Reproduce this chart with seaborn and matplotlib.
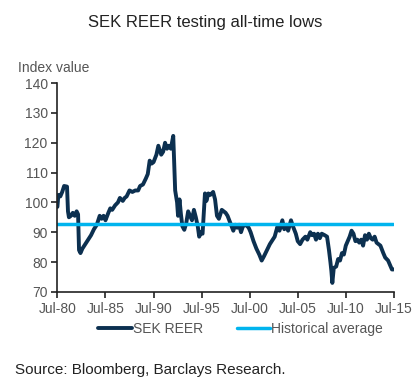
import matplotlib
matplotlib.use('Agg')
import matplotlib.pyplot as plt
import pandas as pd
import seaborn as sns

years = [1980.5, 1980.6, 1980.8, 1981.0, 1981.2, 1981.5, 1981.6, 1981.7, 1981.9, 1982.1,
         1982.3, 1982.5, 1982.65, 1982.75, 1982.9, 1983.1, 1983.4, 1983.7, 1984.0, 1984.3,
         1984.6, 1984.9, 1985.1, 1985.3, 1985.5, 1985.8, 1986.0, 1986.2, 1986.5, 1986.8,
         1987.0, 1987.3, 1987.5, 1987.7, 1988.0, 1988.3, 1988.6, 1988.9, 1989.1, 1989.4,
         1989.7, 1989.9, 1990.1, 1990.3, 1990.5, 1990.8, 1991.0, 1991.3, 1991.5, 1991.7,
         1991.9, 1992.1, 1992.3, 1992.55, 1992.75, 1992.95, 1993.05, 1993.2, 1993.35, 1993.5,
         1993.7, 1993.9, 1994.1, 1994.3, 1994.5, 1994.7, 1994.9, 1995.1, 1995.25, 1995.45,
         1995.6, 1995.85, 1996.0, 1996.2, 1996.4, 1996.7, 1996.9, 1997.1, 1997.3, 1997.6,
         1997.8, 1998.0, 1998.2, 1998.5, 1998.8, 1999.0, 1999.2, 1999.4, 1999.6, 1999.8,
         2000.1, 2000.4, 2000.6, 2000.9, 2001.2, 2001.5, 2001.75, 2002.0, 2002.3, 2002.6,
         2002.9, 2003.1, 2003.4, 2003.6, 2003.9, 2004.1, 2004.3, 2004.5, 2004.8, 2005.0,
         2005.3, 2005.5, 2005.75, 2006.0, 2006.3, 2006.5, 2006.8, 2007.0, 2007.2, 2007.4,
         2007.6, 2007.8, 2008.0, 2008.3, 2008.55, 2008.75, 2008.9, 2009.0, 2009.1, 2009.25,
         2009.5, 2009.7, 2009.9, 2010.1, 2010.3, 2010.5, 2010.7, 2010.9, 2011.1, 2011.3,
         2011.5, 2011.7, 2011.9, 2012.1, 2012.3, 2012.5, 2012.7, 2012.9, 2013.1, 2013.3,
         2013.5, 2013.7, 2013.9, 2014.1, 2014.4, 2014.6, 2014.9, 2015.1, 2015.3, 2015.45]
reer = [98.5, 102.5, 102, 103.5, 105.5, 105.3, 97, 95, 95.5, 96.5,
        95.5, 97, 96, 84, 83, 84.5, 86, 87.5, 89, 91,
        92.5, 95.5, 94.5, 95.5, 94, 96.5, 98, 97.5, 99, 100,
        101.5, 100.5, 101.5, 102, 104, 103.5, 104, 104, 105.5, 106,
        108, 109.5, 114, 113, 113.5, 116, 119, 116, 117, 120,
        118, 119, 118, 122.3, 104, 100, 95.5, 101, 96, 92,
        90.8, 93, 97, 95.5, 94, 97.5, 95, 92, 88.5, 90,
        89.5, 103, 100.5, 103, 102.5, 103.5, 101, 95.5, 94.5, 97.5,
        97, 96.5, 95.5, 93, 90.5, 92.5, 91.5, 92.5, 90, 92,
        92.5, 91.5, 90, 87, 84.5, 82.5, 80.5, 82, 84, 86,
        87.5, 88.5, 92, 90.5, 94, 91, 92.5, 90.5, 94, 92,
        89.5, 87, 86, 87.5, 88.5, 87.5, 90, 89, 89.5, 87.5,
        89.5, 88, 89.5, 89, 88.5, 84, 80, 77, 73, 78,
        78.5, 81, 80.5, 83, 82.5, 85.5, 87, 88.5, 90.5, 89.5,
        87, 87.5, 86.5, 87.5, 85.5, 89, 87.5, 89.5, 88, 87.5,
        88.5, 86.5, 86, 85.5, 83, 81.5, 80.5, 79, 77.5, 77.5]
hist_avg = 92.8

tick_years = [1980.5, 1985.5, 1990.5, 1995.5, 2000.5, 2005.5, 2010.5, 2015.5]
tick_labels = ['Jul-80', 'Jul-85', 'Jul-90', 'Jul-95', 'Jul-00', 'Jul-05', 'Jul-10', 'Jul-15']

df = pd.DataFrame({'year': years, 'SEK REER': reer})
df['Historical average'] = hist_avg

navy = '#0c3050'
sky = '#00b4ee'

sns.set_style('white')
plt.rcParams['font.family'] = ['Liberation Sans Narrow', 'Liberation Sans', 'DejaVu Sans']

fig = plt.figure(figsize=(4.19, 3.83), dpi=100, facecolor='white')
ax = fig.add_axes([0.137, 0.238, 0.803, 0.545])

sns.lineplot(data=df, x='year', y='SEK REER', color=navy, linewidth=2.8, ax=ax, label='SEK REER')
sns.lineplot(data=df, x='year', y='Historical average', color=sky, linewidth=2.5, ax=ax,
             label='Historical average')

ax.set_xlim(1980.5, 2015.5)
ax.set_ylim(70, 140)
ax.set_yticks(range(70, 141, 10))
ax.set_xticks(tick_years)
ax.set_xticklabels(tick_labels)
ax.set_xlabel('')
ax.set_ylabel('')
for side in ['top', 'right']:
    ax.spines[side].set_visible(False)
for side in ['left', 'bottom']:
    ax.spines[side].set_color('#222222')
    ax.spines[side].set_linewidth(1.2)
ax.tick_params(axis='both', length=4, width=1.2, color='#222222', labelcolor='#555555',
               labelsize=10, pad=3, direction='out')
ax.tick_params(left=True, bottom=True)

ax.legend(loc='upper center', bbox_to_anchor=(0.545, -0.085), ncol=2, frameon=False,
          fontsize=10, labelcolor='#555555', handlelength=2.4, handletextpad=0.1,
          columnspacing=2.4)

fig.text(0.49, 0.942, 'SEK REER testing all-time lows', ha='center', va='center',
         fontsize=12, color='#222222', family='Liberation Sans')
fig.text(0.043, 0.823, 'Index value', ha='left', va='center', fontsize=10, color='#555555')
fig.text(0.036, 0.033, 'Source: Bloomberg, Barclays Research.', ha='left', va='center',
         fontsize=11, color='#222222', family='Liberation Sans')

fig.savefig('out.png', dpi=100, facecolor='white')
